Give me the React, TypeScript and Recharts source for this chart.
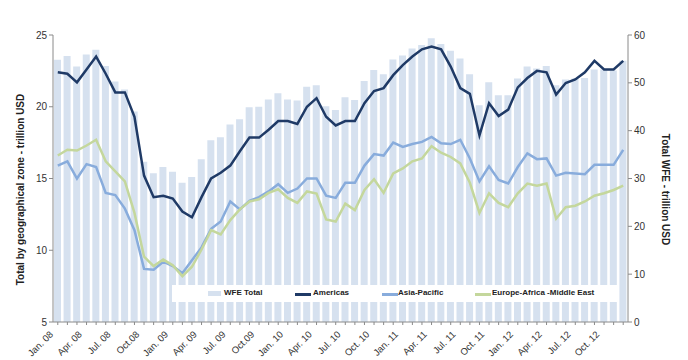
import { ComposedChart, Bar, Line, XAxis, YAxis, Legend } from 'recharts';

const months = [
  'Jan. 08', 'Feb. 08', 'Mar. 08', 'Apr. 08', 'May 08', 'Jun. 08', 'Jul. 08', 'Aug. 08', 'Sep. 08', 'Oct.08', 'Nov. 08', 'Dec. 08',
  'Jan. 09', 'Feb. 09', 'Mar. 09', 'Apr. 09', 'May 09', 'Jun. 09', 'Jul. 09', 'Aug. 09', 'Sep. 09', 'Oct.09', 'Nov. 09', 'Dec. 09',
  'Jan. 10', 'Feb. 10', 'Mar. 10', 'Apr. 10', 'May 10', 'Jun. 10', 'Jul. 10', 'Aug. 10', 'Sep. 10', 'Oct. 10', 'Nov. 10', 'Dec. 10',
  'Jan. 11', 'Feb. 11', 'Mar. 11', 'Apr. 11', 'May 11', 'Jun. 11', 'Jul. 11', 'Aug. 11', 'Sep. 11', 'Oct. 11', 'Nov. 11', 'Dec. 11',
  'Jan. 12', 'Feb. 12', 'Mar. 12', 'Apr. 12', 'May 12', 'Jun. 12', 'Jul. 12', 'Aug. 12', 'Sep. 12', 'Oct. 12', 'Nov. 12', 'Dec. 12',
];

// only these months get a label on the x axis
const tickLabels = [
  'Jan. 08', 'Apr. 08', 'Jul. 08', 'Oct.08', 'Jan. 09', 'Apr. 09', 'Jul. 09', 'Oct.09', 'Jan. 10', 'Apr. 10',
  'Jul. 10', 'Oct. 10', 'Jan. 11', 'Apr. 11', 'Jul. 11', 'Oct. 11', 'Jan. 12', 'Apr. 12', 'Jul. 12', 'Oct. 12',
];

// trillion USD, right axis
const wfeTotal = [
  54.8, 55.6, 53.4, 55.9, 56.9, 53.5, 50.3, 48.6, 44.0, 33.5, 31.1, 32.4,
  31.4, 29.1, 30.3, 34.0, 38.0, 38.6, 41.3, 42.4, 44.9, 45.0, 46.5, 47.8,
  46.5, 46.3, 49.2, 49.5, 45.1, 44.3, 47.0, 46.4, 50.4, 52.7, 51.8, 54.9,
  55.7, 57.2, 57.9, 59.3, 58.1, 56.7, 55.1, 51.8, 45.3, 50.1, 47.4, 47.4,
  50.9, 53.4, 53.0, 53.5, 49.5, 50.7, 50.9, 51.0, 52.8, 52.8, 52.6, 54.6,
];

// trillion USD, left axis
const americas = [
  22.4, 22.3, 21.7, 22.6, 23.5, 22.3, 21.0, 21.0, 19.3, 15.2, 13.7, 13.8,
  13.6, 12.7, 12.3, 13.7, 15.0, 15.4, 15.9, 16.9, 17.85, 17.85, 18.4, 19.0,
  19.0, 18.8, 20.0, 20.6, 19.3, 18.7, 19.0, 19.0, 20.25, 21.1, 21.3, 22.2,
  22.9, 23.5, 24.0, 24.2, 24.0, 22.8, 21.3, 20.9, 18.0, 20.25, 19.35, 19.8,
  21.35, 22.0, 22.5, 22.4, 20.85, 21.65, 21.9, 22.4, 23.2, 22.6, 22.6, 23.2,
];

const asiaPacific = [
  15.9, 16.2, 15.0, 16.0, 15.8, 14.0, 13.85, 12.9, 11.4, 8.7, 8.65, 9.2,
  8.9, 8.4, 9.3, 10.2, 11.5, 12.0, 13.4, 12.85, 13.45, 13.7, 14.1, 14.6,
  14.0, 14.3, 15.0, 15.0, 13.8, 13.65, 14.7, 14.7, 15.9, 16.7, 16.6, 17.5,
  17.2, 17.4, 17.55, 17.9, 17.45, 17.4, 17.7, 16.4, 14.8, 15.85, 14.9, 14.65,
  15.8, 16.75, 16.35, 16.4, 15.2, 15.4, 15.35, 15.3, 15.95, 15.95, 15.95, 17.0,
];

const europeAfricaMe = [
  16.6, 17.0, 16.95, 17.3, 17.7, 16.2, 15.5, 14.8, 12.6, 9.55, 8.9, 9.35,
  8.95, 8.2, 8.85, 10.05, 11.4, 11.1, 12.1, 12.85, 13.4, 13.55, 14.0, 14.25,
  13.65, 13.3, 14.1, 13.95, 12.15, 12.0, 13.25, 12.8, 14.2, 14.95, 14.0, 15.35,
  15.7, 16.2, 16.4, 17.25, 16.8, 16.5, 16.05, 14.7, 12.6, 13.97, 13.3, 13.0,
  13.97, 14.65, 14.5, 14.65, 12.2, 13.0, 13.1, 13.4, 13.8, 13.97, 14.2, 14.5,
];

const leftTicks = [5, 10, 15, 20, 25];
const rightTicks = [0, 10, 20, 30, 40, 50, 60];

const data = months.map((m, i) => ({
  month: m,
  wfe: wfeTotal[i],
  americas: americas[i],
  asia: asiaPacific[i],
  emea: europeAfricaMe[i],
}));

const FONT = '"Liberation Sans", Arial, sans-serif';
const BAR_COLOR = '#d6e1ef';
const AMERICAS_COLOR = '#1f3a66';
const ASIA_COLOR = '#88acdc';
const EMEA_COLOR = '#c4d79c';
const AXIS_COLOR = '#8a8a8a';

const MonthTick = ({ x, y, payload }: any) => {
  if (!tickLabels.includes(payload.value)) return null;
  const tx = x - 4;
  const ty = y + 8;
  return (
    <text
      x={tx}
      y={ty}
      transform={`rotate(-45, ${tx}, ${ty})`}
      textAnchor="end"
      fontSize={9.5}
      fontFamily={FONT}
      fill="#333"
    >
      {payload.value}
    </text>
  );
};

// vertical axis title, placed from the axis viewBox
const AxisTitle = ({ viewBox, text, side }: any) => {
  if (!viewBox) return null;
  const { x, y, width, height } = viewBox;
  const cx = side === 'left' ? x + 20 : x + width - 23;
  const cy = y + height / 2 + 11;
  return (
    <text
      transform={`translate(${cx}, ${cy}) rotate(${side === 'left' ? -90 : 90})`}
      textAnchor="middle"
      dominantBaseline="central"
      fontSize={10}
      fontWeight={600}
      fontFamily={FONT}
      fill="#222"
    >
      {text}
    </text>
  );
};

const LegendBox = () => {
  const text = { position: 'absolute' as const, top: 3, fontSize: 8, fontWeight: 700, color: '#222', whiteSpace: 'nowrap' as const };
  const swatchLine = (color: string, left: number) => (
    <div style={{ position: 'absolute', left, top: 8, width: 16, height: 2.5, background: color }} />
  );
  return (
    <div style={{ position: 'relative', width: 445, height: 17, background: '#fff', fontFamily: FONT }}>
      <div style={{ position: 'absolute', left: 36, top: 6, width: 13, height: 5, background: BAR_COLOR }} />
      <span style={{ ...text, left: 52 }}>WFE Total</span>
      {swatchLine(AMERICAS_COLOR, 123)}
      <span style={{ ...text, left: 141 }}>Americas</span>
      {swatchLine(ASIA_COLOR, 210)}
      <span style={{ ...text, left: 226 }}>Asia-Pacific</span>
      {swatchLine(EMEA_COLOR, 303)}
      <span style={{ ...text, left: 320 }}>Europe-Africa -Middle East</span>
    </div>
  );
};

export default function App() {
  return (
    <div style={{ position: 'absolute', left: 0, top: 0, width: 688, height: 360, background: '#fff' }}>
      <ComposedChart
        width={688}
        height={360}
        data={data}
        margin={{ top: 35, right: 0, left: 0, bottom: 0 }}
        barCategoryGap="28%"
      >
        <XAxis
          dataKey="month"
          interval={0}
          height={38}
          tick={<MonthTick />}
          tickSize={3}
          stroke={AXIS_COLOR}
        />
        <YAxis
          yAxisId="left"
          orientation="left"
          width={53}
          domain={[5, 25]}
          ticks={leftTicks}
          tickSize={4}
          stroke={AXIS_COLOR}
          tick={{ fontSize: 10, fill: '#333', fontFamily: FONT }}
          label={<AxisTitle side="left" text="Total by geographical zone - trillion USD" />}
        />
        <YAxis
          yAxisId="right"
          orientation="right"
          width={60}
          domain={[0, 60]}
          ticks={rightTicks}
          tickSize={4}
          stroke={AXIS_COLOR}
          tick={{ fontSize: 10, fill: '#333', fontFamily: FONT }}
          label={<AxisTitle side="right" text="Total WFE - trillion USD" />}
        />
        <Legend
          layout="horizontal"
          verticalAlign="middle"
          align="center"
          content={<LegendBox />}
          wrapperStyle={{ left: 172, top: 285, width: 445, height: 17 }}
        />
        <Bar yAxisId="right" dataKey="wfe" name="WFE Total" fill={BAR_COLOR} barSize={7} isAnimationActive={false} />
        <Line yAxisId="left" type="linear" dataKey="americas" name="Americas" stroke={AMERICAS_COLOR} strokeWidth={2.5} dot={false} isAnimationActive={false} />
        <Line yAxisId="left" type="linear" dataKey="asia" name="Asia-Pacific" stroke={ASIA_COLOR} strokeWidth={2.5} dot={false} isAnimationActive={false} />
        <Line yAxisId="left" type="linear" dataKey="emea" name="Europe-Africa -Middle East" stroke={EMEA_COLOR} strokeWidth={2.5} dot={false} isAnimationActive={false} />
      </ComposedChart>
    </div>
  );
}
